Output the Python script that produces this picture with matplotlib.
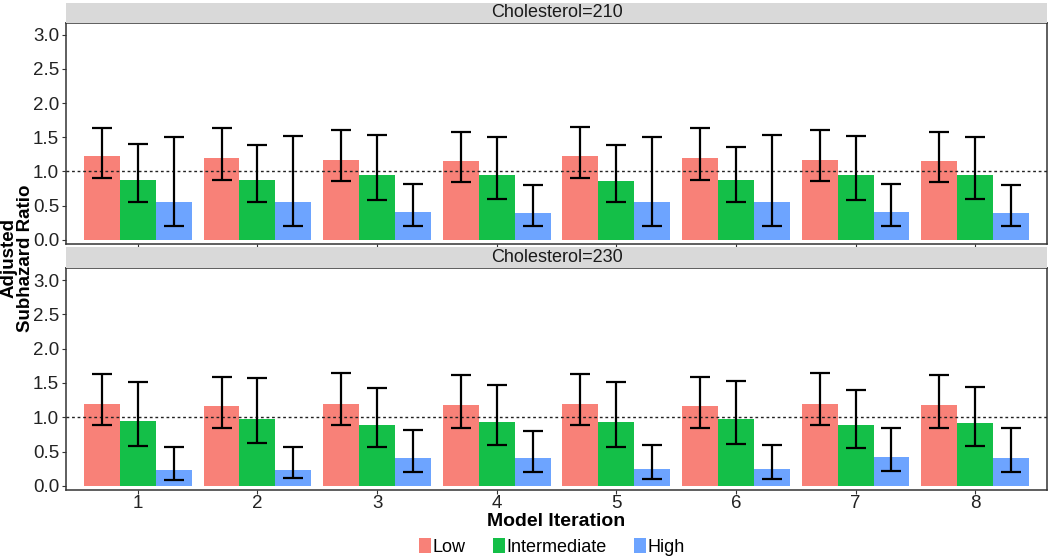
import matplotlib
matplotlib.use("Agg")
import matplotlib.pyplot as plt
import matplotlib.patches as mpatches
import numpy as np

plt.rcParams['font.family'] = ['Liberation Sans', 'DejaVu Sans']

iterations = ["1", "2", "3", "4", "5", "6", "7", "8"]
groups = ["Low", "Intermediate", "High"]
colors = ["#F8766D", "#00BA38", "#619CFF"]
panels = ["Cholesterol=210", "Cholesterol=230"]

# Cholesterol = 210
c210_low = [1.22, 1.20, 1.17, 1.16, 1.22, 1.20, 1.17, 1.16]
c210_low_lo = [0.91, 0.88, 0.86, 0.85, 0.91, 0.88, 0.86, 0.85]
c210_low_hi = [1.64, 1.63, 1.60, 1.58, 1.65, 1.64, 1.60, 1.58]
c210_int = [0.87, 0.88, 0.95, 0.95, 0.86, 0.87, 0.95, 0.95]
c210_int_lo = [0.55, 0.56, 0.59, 0.60, 0.55, 0.56, 0.58, 0.60]
c210_int_hi = [1.40, 1.38, 1.53, 1.51, 1.38, 1.36, 1.52, 1.50]
c210_high = [0.55, 0.56, 0.41, 0.40, 0.55, 0.56, 0.41, 0.40]
c210_high_lo = [0.20, 0.20, 0.20, 0.20, 0.20, 0.20, 0.20, 0.20]
c210_high_hi = [1.51, 1.52, 0.82, 0.80, 1.51, 1.53, 0.82, 0.80]

# Cholesterol = 230
c230_low = [1.19, 1.17, 1.20, 1.18, 1.19, 1.17, 1.20, 1.18]
c230_low_lo = [0.89, 0.85, 0.89, 0.85, 0.89, 0.85, 0.89, 0.85]
c230_low_hi = [1.63, 1.59, 1.65, 1.61, 1.63, 1.59, 1.65, 1.61]
c230_int = [0.95, 0.98, 0.89, 0.93, 0.93, 0.97, 0.88, 0.92]
c230_int_lo = [0.58, 0.62, 0.56, 0.59, 0.57, 0.61, 0.55, 0.58]
c230_int_hi = [1.52, 1.57, 1.42, 1.47, 1.51, 1.53, 1.40, 1.44]
c230_high = [0.23, 0.23, 0.41, 0.40, 0.24, 0.24, 0.42, 0.41]
c230_high_lo = [0.09, 0.11, 0.20, 0.20, 0.10, 0.10, 0.21, 0.20]
c230_high_hi = [0.56, 0.57, 0.82, 0.80, 0.59, 0.59, 0.85, 0.84]

data = {
    panels[0]: [(c210_low, c210_low_lo, c210_low_hi),
                (c210_int, c210_int_lo, c210_int_hi),
                (c210_high, c210_high_lo, c210_high_hi)],
    panels[1]: [(c230_low, c230_low_lo, c230_low_hi),
                (c230_int, c230_int_lo, c230_int_hi),
                (c230_high, c230_high_lo, c230_high_hi)],
}

W, H = 1050, 559
fig = plt.figure(figsize=(W / 100, H / 100), dpi=100)

def fx(px):
    return px / W

def fy(py):
    return 1 - py / H

left, right = 66, 1047
panel_px = [(22.7, 244), (268, 490)]
strip_px = [(3, 22.7), (247, 268)]

x = np.arange(1, len(iterations) + 1)
bw = 0.3
offsets = [-bw, 0, bw]

for pi, name in enumerate(panels):
    top, bot = panel_px[pi]
    ax = fig.add_axes([fx(left), fy(bot), fx(right - left), (bot - top) / H])
    for gi, (vals, lo, hi) in enumerate(data[name]):
        vals = np.array(vals); lo = np.array(lo); hi = np.array(hi)
        ax.bar(x + offsets[gi], vals, width=bw, color=colors[gi], alpha=0.92,
               linewidth=0, zorder=2)
        ax.errorbar(x + offsets[gi], vals, yerr=[vals - lo, hi - vals], fmt='none',
                    ecolor='black', elinewidth=1.6, capsize=7.2, capthick=1.6, zorder=4)
    ax.axhline(1.0, color='#222222', linestyle=(0, (2, 2)), linewidth=1.0, zorder=3)
    ax.set_xlim(0.4, 8.6)
    ax.set_ylim(-0.06, 3.175)
    ax.set_yticks([0, 0.5, 1, 1.5, 2, 2.5, 3])
    ax.set_yticklabels(["0.0", "0.5", "1.0", "1.5", "2.0", "2.5", "3.0"])
    ax.set_xticks(x)
    if pi == 1:
        ax.set_xticklabels(iterations)
    else:
        ax.set_xticklabels([])
    ax.tick_params(axis='y', labelsize=13.5, colors='#333333', length=3, width=0.8,
                   labelcolor='#222222', pad=2)
    ax.tick_params(axis='x', labelsize=13.5, colors='#333333', length=3, width=0.8,
                   labelcolor='#222222', pad=0.5)
    for s in ax.spines.values():
        s.set_color('#333333')
        s.set_linewidth(1.1)
    # strip
    st, sb = strip_px[pi]
    sax = fig.add_axes([fx(left), fy(sb), fx(right - left), (sb - st) / H])
    sax.set_facecolor('#D9D9D9')
    sax.set_xticks([]); sax.set_yticks([])
    for s in sax.spines.values():
        s.set_visible(False)
    sax.text(0.5, 0.5, name, ha='center', va='center', fontsize=13, color='#1a1a1a',
             transform=sax.transAxes)

fig.text(fx(17), fy(258), "Adjusted\nSubhazard Ratio", rotation=90, ha='center', va='center',
         fontsize=13.5, fontweight='bold', linespacing=0.95)
fig.text(fx((left + right) / 2), fy(521.5), "Model Iteration", ha='center', va='center',
         fontsize=14, fontweight='bold')

handles = [mpatches.Patch(facecolor=c, edgecolor='none', alpha=0.92) for c in colors]
fig.legend(handles, groups, loc='center', bbox_to_anchor=(fx(552), fy(547)), ncol=3,
           frameon=False, fontsize=13, handlelength=0.65, handleheight=0.85,
           handletextpad=0.1, columnspacing=1.5)

fig.savefig("out.png", dpi=100)
